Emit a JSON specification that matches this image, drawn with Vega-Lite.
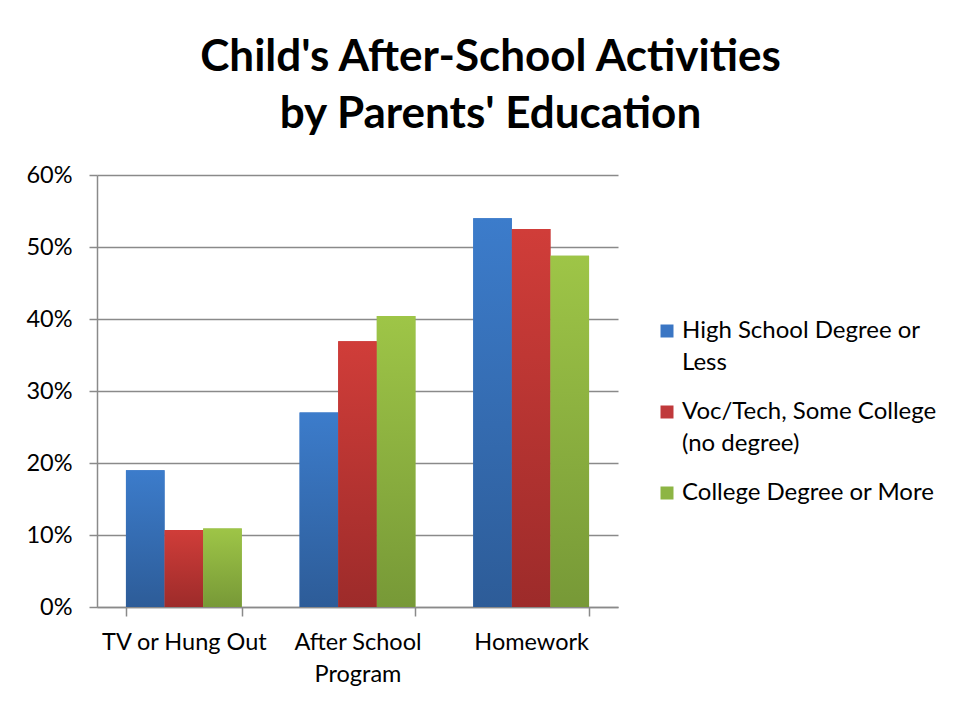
{
  "$schema": "https://vega.github.io/schema/vega-lite/v6.json",
  "width": 521,
  "height": 432,
  "autosize": {"type": "none"},
  "padding": {"left": 97, "top": 175, "right": 339, "bottom": 97},
  "background": "white",
  "title": {
    "text": ["Child's After-School Activities", "by Parents' Education"],
    "font": "Lato",
    "fontSize": 44,
    "fontWeight": "bold",
    "color": "#000000",
    "lineHeight": 57,
    "anchor": "middle",
    "frame": "group",
    "dx": 133,
    "offset": 26
  },
  "data": {
    "values": [
      {"activity": "TV or Hung Out", "education": "High School Degree or Less", "pct": 0.19},
      {"activity": "TV or Hung Out", "education": "Voc/Tech, Some College (no degree)", "pct": 0.107},
      {"activity": "TV or Hung Out", "education": "College Degree or More", "pct": 0.109},
      {"activity": "After School Program", "education": "High School Degree or Less", "pct": 0.27},
      {"activity": "After School Program", "education": "Voc/Tech, Some College (no degree)", "pct": 0.369},
      {"activity": "After School Program", "education": "College Degree or More", "pct": 0.404},
      {"activity": "Homework", "education": "High School Degree or Less", "pct": 0.54},
      {"activity": "Homework", "education": "Voc/Tech, Some College (no degree)", "pct": 0.525},
      {"activity": "Homework", "education": "College Degree or More", "pct": 0.488}
    ]
  },
  "encoding": {
    "x": {
      "field": "activity",
      "type": "nominal",
      "sort": ["TV or Hung Out", "After School Program", "Homework"],
      "scale": {"paddingInner": 0.333, "paddingOuter": 0.1667},
      "axis": {
        "title": null,
        "labelAngle": 0,
        "labelFont": "Lato",
        "labelFontSize": 23.5,
        "labelColor": "#000000",
        "labelLineHeight": 32,
        "labelPadding": 14,
        "labelExpr": "datum.label == 'After School Program' ? ['After School', 'Program'] : datum.label",
        "tickBand": "extent",
        "tickSize": 9,
        "tickColor": "#8a8a8a",
        "tickWidth": 1.5,
        "domainColor": "#8a8a8a",
        "domainWidth": 1.5,
        "grid": false
      }
    },
    "xOffset": {
      "field": "education",
      "type": "nominal",
      "sort": ["High School Degree or Less", "Voc/Tech, Some College (no degree)", "College Degree or More"],
      "scale": {"paddingInner": 0, "paddingOuter": 0}
    },
    "y": {
      "field": "pct",
      "type": "quantitative",
      "scale": {"domain": [0, 0.6], "nice": false},
      "axis": {
        "title": null,
        "format": ".0%",
        "values": [0, 0.1, 0.2, 0.3, 0.4, 0.5, 0.6],
        "labelFont": "Lato",
        "labelFontSize": 23.5,
        "labelColor": "#000000",
        "labelPadding": 17,
        "tickSize": 8,
        "tickColor": "#8a8a8a",
        "tickWidth": 1.5,
        "domainColor": "#8a8a8a",
        "domainWidth": 1.5,
        "gridColor": "#8a8a8a",
        "gridWidth": 1.5
      }
    }
  },
  "layer": [
    {
      "mark": {"type": "bar"},
      "encoding": {
        "color": {
          "field": "education",
          "type": "nominal",
          "sort": ["High School Degree or Less", "Voc/Tech, Some College (no degree)", "College Degree or More"],
          "scale": {"range": ["#3A76C4", "#C0393B", "#8DB544"]},
          "legend": {
            "title": null,
            "orient": "none",
            "legendX": 558,
            "legendY": 144,
            "padding": 0,
            "symbolType": "square",
            "symbolSize": 169,
            "symbolStrokeWidth": 0,
            "symbolOpacity": 1,
            "labelFont": "Lato",
            "labelFontSize": 24,
            "labelColor": "#000000",
            "labelLimit": 400,
            "labelOffset": 3,
            "rowPadding": 25,
            "labelExpr": "datum.label == 'High School Degree or Less' ? ['High School Degree or', 'Less'] : datum.label == 'Voc/Tech, Some College (no degree)' ? ['Voc/Tech, Some College', '(no degree)'] : datum.label"
          }
        }
      }
    },
    {
      "mark": {"type": "bar"},
      "encoding": {
        "fill": {
          "condition": [
            {"test": "datum.education === 'High School Degree or Less'", "value": {"gradient": "linear", "x1": 0, "y1": 0, "x2": 0, "y2": 1, "stops": [{"offset": 0, "color": "#3C7CCB"}, {"offset": 1, "color": "#2D5C98"}]}},
            {"test": "datum.education === 'Voc/Tech, Some College (no degree)'", "value": {"gradient": "linear", "x1": 0, "y1": 0, "x2": 0, "y2": 1, "stops": [{"offset": 0, "color": "#D03D39"}, {"offset": 1, "color": "#9D2B2A"}]}}
          ],
          "value": {"gradient": "linear", "x1": 0, "y1": 0, "x2": 0, "y2": 1, "stops": [{"offset": 0, "color": "#9EC547"}, {"offset": 1, "color": "#779937"}]}
        }
      }
    }
  ],
  "config": {
    "view": {"stroke": null},
    "style": {"guide-label": {"lineHeight": 32}}
  }
}
